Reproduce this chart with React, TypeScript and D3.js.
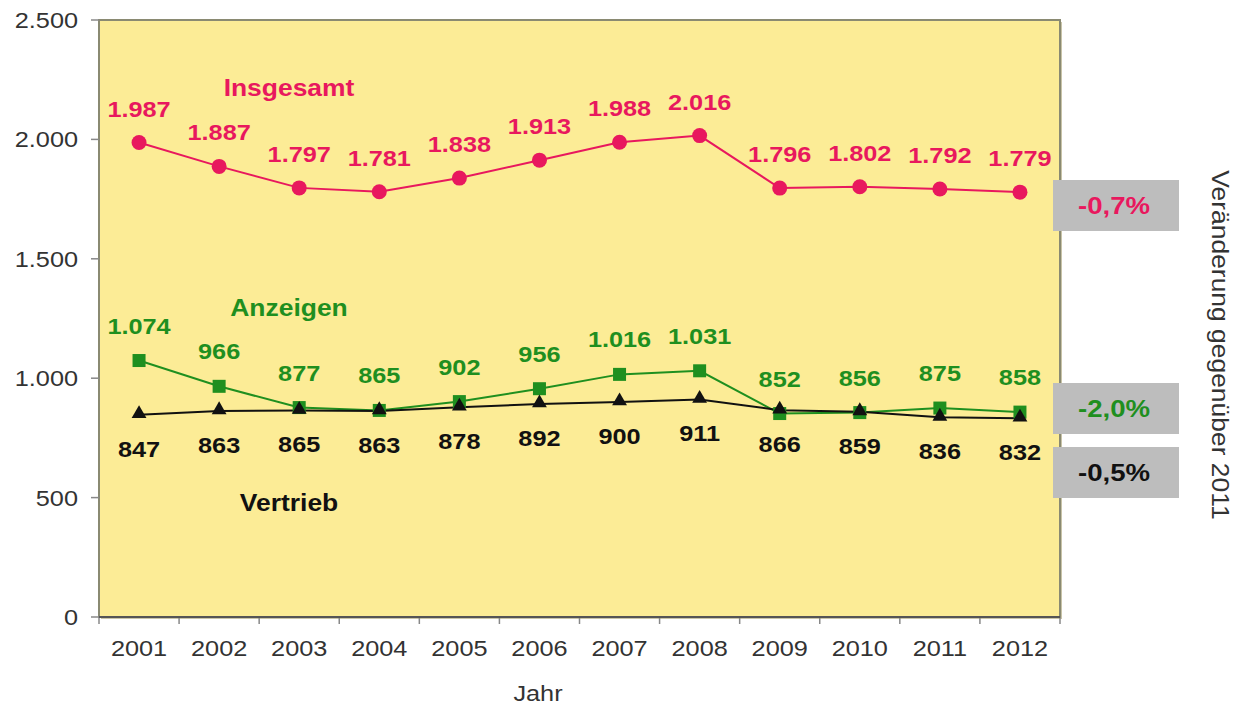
import React from "react";
import * as d3 from "d3";

const years = ["2001","2002","2003","2004","2005","2006","2007","2008","2009","2010","2011","2012"];
const insgesamt = [1987,1887,1797,1781,1838,1913,1988,2016,1796,1802,1792,1779];
const anzeigen = [1074,966,877,865,902,956,1016,1031,852,856,875,858];
const vertrieb = [847,863,865,863,878,892,900,911,866,859,836,832];
const yTicks = [0,500,1000,1500,2000,2500];
const changes = ["-0,7%","-2,0%","-0,5%"];

const W = 1237, H = 710;
const left = 99, right = 1060, top = 20, bottom = 617;
const PINK = "#E8185E", GREEN = "#1F8F1F", BLACK = "#111";
const SX = 1.15;
const fmt = (v: number) => v >= 1000 ? `${Math.floor(v/1000)}.${String(v%1000).padStart(3,"0")}` : String(v);
const FONT = "'Liberation Sans', Arial, Helvetica, sans-serif";

function T(props: any) {
  const { x, y, rot, children, ...rest } = props;
  const tr = `translate(${x},${y})${rot ? ` rotate(${rot})` : ""} scale(${SX},1)`;
  return <text transform={tr} {...rest}>{children}</text>;
}

export default function App() {
  const x = d3.scaleBand().domain(years).range([left, right]);
  const y = d3.scaleLinear().domain([0, 2500]).range([bottom, top]);
  const cx = (i: number) => (x(years[i]) as number) + x.bandwidth() / 2;
  const line = d3.line<number>().x((_, i) => cx(i)).y(d => y(d));
  const tri = d3.symbol().type(d3.symbolTriangle).size(95)() as string;

  return (
    <svg width={W} height={H} style={{ position: "absolute", left: 0, top: 0, fontFamily: FONT }}>
      <rect x={0} y={0} width={W} height={H} fill="#fff" />
      <rect x={left + 2} y={top + 2} width={right - left} height={bottom - top} fill="#c9c4a8" />
      <rect x={left} y={top} width={right - left} height={bottom - top} fill="#FCEC96" stroke="#8a8a72" strokeWidth={2} />
      {yTicks.map(t => (
        <g key={t}>
          <line x1={left - 8} x2={left} y1={y(t)} y2={y(t)} stroke="#888" strokeWidth={1.5} />
          <T x={78} y={y(t) + 8} textAnchor="end" fontSize={22} fill="#333">{fmt(t)}</T>
        </g>
      ))}
      {years.map((yr, i) => (
        <g key={yr}>
          <line x1={x(yr) as number} x2={x(yr) as number} y1={bottom} y2={bottom + 7} stroke="#888" strokeWidth={1.5} />
          <T x={cx(i)} y={656} textAnchor="middle" fontSize={22} fill="#333">{yr}</T>
        </g>
      ))}
      <line x1={right} x2={right} y1={bottom} y2={bottom + 7} stroke="#888" strokeWidth={1.5} />
      <line x1={left} x2={right} y1={bottom} y2={bottom} stroke="#555" strokeWidth={2} />
      <T x={538} y={701} textAnchor="middle" fontSize={22} fill="#333">Jahr</T>

      <path d={line(insgesamt) as string} fill="none" stroke={PINK} strokeWidth={2} />
      <path d={line(anzeigen) as string} fill="none" stroke={GREEN} strokeWidth={2} />
      <path d={line(vertrieb) as string} fill="none" stroke={BLACK} strokeWidth={2} />

      {insgesamt.map((v, i) => (
        <g key={"i" + i}>
          <circle cx={cx(i)} cy={y(v)} r={7.5} fill={PINK} />
          <T x={cx(i)} y={y(v) - 26} textAnchor="middle" fontSize={22} fontWeight="bold" fill={PINK}>{fmt(v)}</T>
        </g>
      ))}
      {anzeigen.map((v, i) => (
        <g key={"a" + i}>
          <rect x={cx(i) - 6.5} y={y(v) - 6.5} width={13} height={13} fill={GREEN} />
          <T x={cx(i)} y={y(v) - 27} textAnchor="middle" fontSize={22} fontWeight="bold" fill={GREEN}>{fmt(v)}</T>
        </g>
      ))}
      {vertrieb.map((v, i) => (
        <g key={"v" + i}>
          <path d={tri} transform={`translate(${cx(i)},${y(v) - 1})`} fill={BLACK} />
          <T x={cx(i)} y={y(v) + 42} textAnchor="middle" fontSize={22} fontWeight="bold" fill={BLACK}>{fmt(v)}</T>
        </g>
      ))}

      <T x={289} y={96} textAnchor="middle" fontSize={23} fontWeight="bold" fill={PINK}>Insgesamt</T>
      <T x={289} y={316} textAnchor="middle" fontSize={23} fontWeight="bold" fill={GREEN}>Anzeigen</T>
      <T x={289} y={511} textAnchor="middle" fontSize={23} fontWeight="bold" fill={BLACK}>Vertrieb</T>

      {[
        { t: changes[0], y0: 180, c: PINK },
        { t: changes[1], y0: 383, c: GREEN },
        { t: changes[2], y0: 447, c: BLACK },
      ].map(b => (
        <g key={b.t}>
          <rect x={1053} y={b.y0} width={126} height={51} fill="#BDBDBD" />
          <T x={1114} y={b.y0 + 34} textAnchor="middle" fontSize={24} fontWeight="bold" fill={b.c}>{b.t}</T>
        </g>
      ))}
      <T x={1212} y={345} rot={90} textAnchor="middle" fontSize={23} fill="#333">Veränderung gegenüber 2011</T>
    </svg>
  );
}
